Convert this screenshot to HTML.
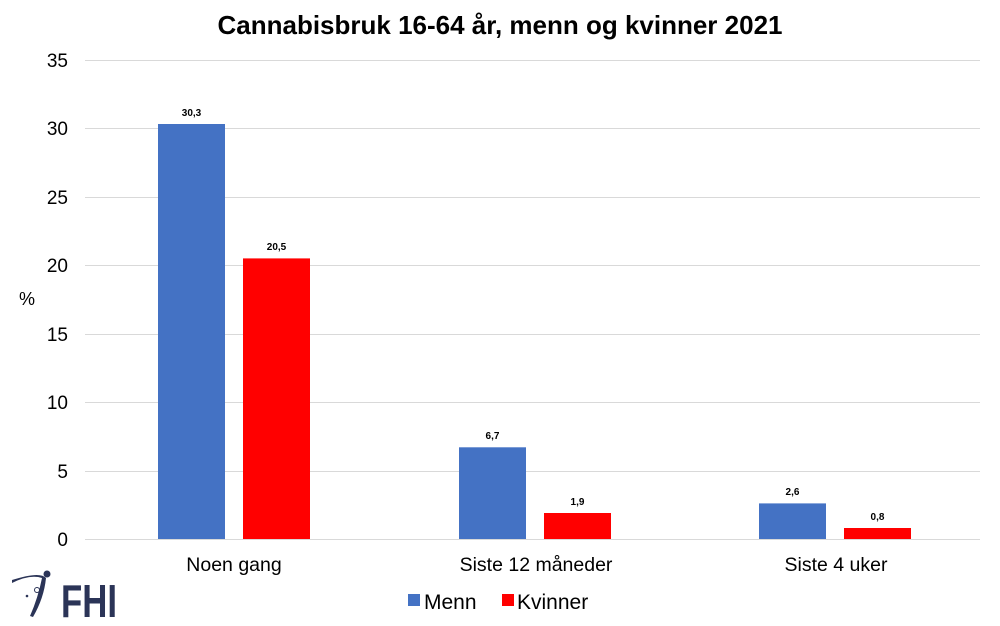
<!DOCTYPE html>
<html><head><meta charset="utf-8"><style>
body{margin:0;background:#fff;}
svg{display:block;font-family:"Liberation Sans",Arial,sans-serif;}
</style></head><body>
<svg width="1000" height="626" viewBox="0 0 1000 626">
<rect width="1000" height="626" fill="#fff"/>
<text x="500" y="34" text-anchor="middle" font-size="26" font-weight="bold">Cannabisbruk 16-64 år, menn og kvinner 2021</text>
<g stroke="#d9d9d9" stroke-width="1">
<line x1="85" x2="980" y1="60.5" y2="60.5"/>
<line x1="85" x2="980" y1="128.5" y2="128.5"/>
<line x1="85" x2="980" y1="197.5" y2="197.5"/>
<line x1="85" x2="980" y1="265.5" y2="265.5"/>
<line x1="85" x2="980" y1="334.5" y2="334.5"/>
<line x1="85" x2="980" y1="402.5" y2="402.5"/>
<line x1="85" x2="980" y1="471.5" y2="471.5"/>
<line x1="85" x2="980" y1="539.5" y2="539.5"/>
</g>
<g font-size="19" text-anchor="end">
<text x="68" y="67">35</text><text x="68" y="135">30</text><text x="68" y="204">25</text>
<text x="68" y="272">20</text><text x="68" y="341">15</text><text x="68" y="409">10</text>
<text x="68" y="478">5</text><text x="68" y="546">0</text>
</g>
<text x="19" y="305" font-size="18">%</text>
<g fill="#4472c4">
<rect x="158" y="124" width="67" height="415"/>
<rect x="459" y="447.3" width="67" height="91.7"/>
<rect x="759" y="503.4" width="67" height="35.6"/>
</g>
<g fill="#ff0000">
<rect x="243" y="258.4" width="67" height="280.6"/>
<rect x="544" y="513" width="67" height="26"/>
<rect x="844" y="528" width="67" height="11"/>
</g>
<g font-size="10" font-weight="bold" text-anchor="middle">
<text x="191.5" y="116">30,3</text><text x="276.5" y="250">20,5</text>
<text x="492.5" y="439">6,7</text><text x="577.5" y="505">1,9</text>
<text x="792.5" y="495">2,6</text><text x="877.5" y="520">0,8</text>
</g>
<g font-size="19.5" text-anchor="middle">
<text x="234" y="571">Noen gang</text>
<text x="536" y="571">Siste 12 måneder</text>
<text x="836" y="571">Siste 4 uker</text>
</g>
<rect x="408" y="594" width="12" height="12" fill="#4472c4"/>
<text x="424" y="609" font-size="21">Menn</text>
<rect x="502" y="594" width="12" height="12" fill="#ff0000"/>
<text x="517" y="609" font-size="21">Kvinner</text>
<g fill="#2b3457">
<path d="M12 583 Q30 574 42 578 Q38 598 30 616 L33 617 Q44 598 46 578 Q40 571 12 580 Z"/>
<circle cx="47" cy="574" r="3.5"/>
<circle cx="37" cy="590" r="2.5" fill="#fff" stroke="#2b3457" stroke-width="1"/>
<circle cx="27" cy="596" r="1.3"/>
<text x="61" y="617" font-size="46" font-weight="bold" fill="#2b3457" textLength="56" lengthAdjust="spacingAndGlyphs">FHI</text>
</g>
</svg>
</body></html>
